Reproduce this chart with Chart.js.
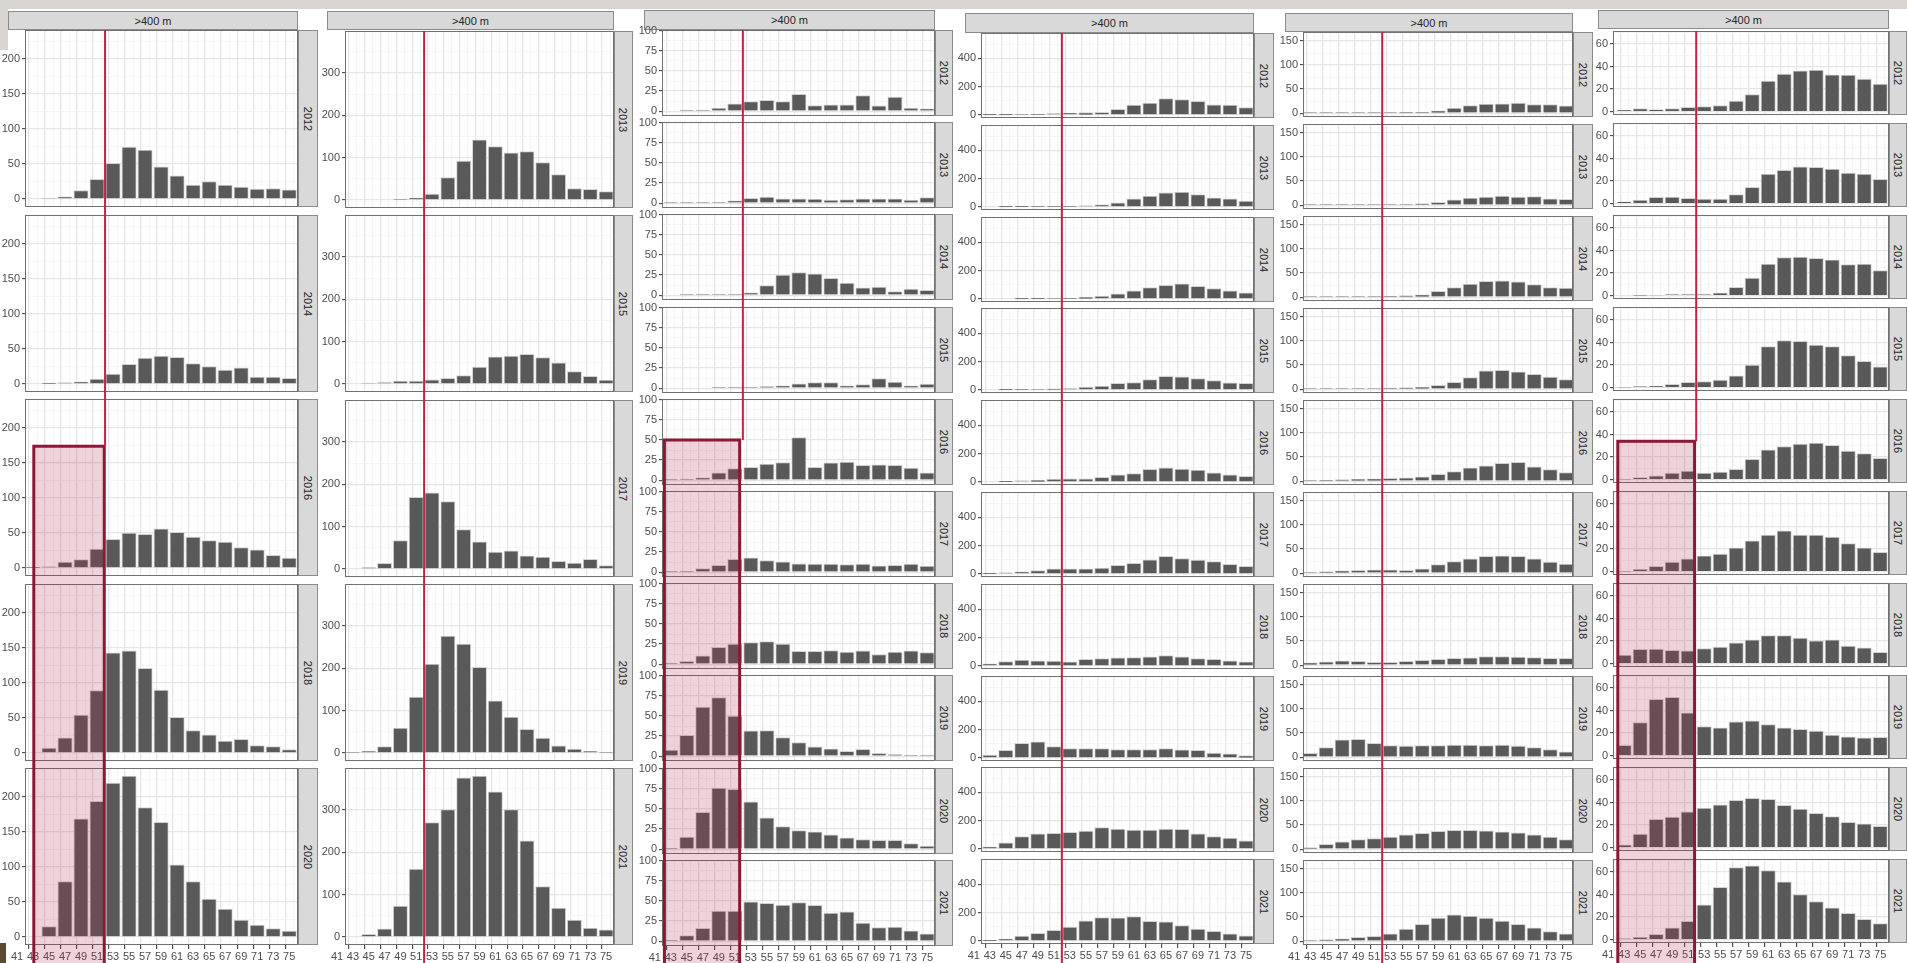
<!DOCTYPE html>
<html>
<head>
<meta charset="utf-8">
<script src="https://cdn.jsdelivr.net/npm/chart.js@4.4.1/dist/chart.umd.min.js"></script>
<style>
  html, body { margin: 0; padding: 0; background: #fff; }
  #stage { position: relative; width: 1907px; height: 963px; overflow: hidden; background: #fff;
           font-family: "Liberation Sans", Arial, sans-serif; }
  #stage canvas { position: absolute; }
  .strip { position: absolute; box-sizing: border-box; background: #d9d9d9; border: 1px solid #8a8a8a;
           color: #262626; font-size: 11px; display: flex; align-items: center; justify-content: center; }
  .strip span { display: block; white-space: nowrap; }
  .strip.v span { transform: rotate(90deg); }
  .band { position: absolute; background: #d8d5d0; }
</style>
</head>
<body>
<div id="stage"></div>
<script>
// Length classes (bin centres) and the labelled ticks of the shared x axis
const lengthBins  = [43, 45, 47, 49, 51, 53, 55, 57, 59, 61, 63, 65, 67, 69, 71, 73, 75];
const xTickLabels = [41, 43, 45, 47, 49, 51, 53, 55, 57, 59, 61, 63, 65, 67, 69, 71, 73, 75];
const depthLabel  = '>400 m';
const cutoffLength = 52;

// Panel set A (even years)
const yearsA = [2012, 2014, 2016, 2018, 2020];
const countsA = [
  [0, 1, 3, 12, 28, 51, 74, 70, 46, 33, 20, 25, 20, 17, 14, 15, 13],
  [0, 0.5, 1.5, 3, 7, 14, 28, 37, 40, 38, 29, 25, 20, 23, 10, 10, 8],
  [0.5, 1.5, 8.5, 12, 27, 41, 50, 48, 56, 51, 44, 39, 37, 29, 26, 18, 14],
  [0, 7, 21.5, 54, 89, 143, 146, 121, 90, 51, 32, 26, 17, 19.5, 10.5, 9, 5],
  [0, 15, 79, 169, 194, 220, 230, 185, 164, 103, 79, 54, 40, 24, 17, 12, 8.5]
];

// Panel set B (odd years)
const yearsB = [2013, 2015, 2017, 2019, 2021];
const countsB = [
  [0, 0, 0, 1, 4.5, 14, 53, 92, 142, 126, 111, 114, 88, 60, 27, 25, 20],
  [0, 2, 3, 6.5, 6.5, 10, 13, 20, 40, 64, 66, 70, 62, 50, 29, 18, 9],
  [0, 3, 13, 67, 169, 180, 159, 93, 64, 40, 43, 31, 28, 18, 14, 23, 8],
  [1, 4, 15, 59, 132, 210, 276, 257, 202, 123, 85, 56, 35, 17, 9, 4, 1],
  [0, 6, 19, 73, 160, 270, 301, 376, 380, 343, 301, 227, 119, 68, 40, 21, 17]
];

const yearsAll = [2012, 2013, 2014, 2015, 2016, 2017, 2018, 2019, 2020, 2021];

const countsC = [
  [0, 0.5, 1, 4, 9, 12, 13.5, 12, 21, 7, 8, 8, 19.5, 6.5, 17.5, 4, 3],
  [0.3, 0.3, 0.5, 1, 3, 6, 7.5, 5.5, 5.5, 5, 4, 4.5, 5.5, 5.5, 5.5, 4, 7],
  [0, 0.3, 1, 1.5, 1.5, 3, 12, 25, 28, 26.5, 21, 15, 9, 10, 4.5, 7.5, 6],
  [0, 0, 0, 0.5, 0.5, 0.5, 2, 3, 5.5, 7, 7, 3, 4.5, 12, 7.5, 3, 5],
  [0.3, 1.5, 3, 9, 14.5, 16, 20, 22, 53, 16, 21.5, 22.5, 18.5, 19, 18.5, 15, 9],
  [0.3, 1.2, 4.5, 8.5, 16, 18, 14.5, 13, 10.5, 10, 10, 9.5, 10, 8, 8.5, 10, 7.5],
  [0.5, 3.5, 10.5, 21, 25, 27, 28, 25, 16, 16, 17, 15, 16.5, 12, 15, 16.5, 14.5],
  [7.5, 26, 61, 73, 50, 31.5, 32, 23, 17, 11.5, 9, 6, 8.5, 3.5, 2, 1.5, 1.5],
  [1, 15, 46, 76, 74.5, 59, 39, 28, 23, 21.5, 18, 14, 12, 11, 11, 7, 4],
  [0.5, 7, 16, 37.5, 37.5, 49, 47, 45, 48, 44.5, 35, 36.5, 22.5, 17, 17.5, 13, 9]
];

const countsD = [
  [1, 1, 4, 6, 10, 14, 17, 19, 40, 70, 84, 115, 108, 96, 72, 70, 53],
  [0, 1, 2, 3, 6, 6, 9, 15, 30, 58, 77, 100, 105, 88, 65, 58, 41],
  [0, 0, 1, 2, 4, 6, 13, 20, 37, 57, 80, 97, 107, 90, 73, 57, 43],
  [0, 2, 3, 4, 7, 10, 20, 27, 47, 53, 73, 97, 93, 80, 67, 50, 47],
  [0, 2, 8, 13, 20, 23, 23, 33, 50, 60, 90, 100, 91, 84, 64, 50, 40],
  [2, 9, 16, 24, 36, 36, 36, 42, 61, 75, 100, 125, 108, 98, 88, 68, 54],
  [16, 32, 42, 37, 35, 30, 47, 53, 57, 60, 65, 73, 65, 53, 47, 37, 30],
  [20, 54, 104, 114, 80, 67, 67, 67, 60, 60, 60, 67, 57, 54, 34, 30, 17],
  [15, 44, 87, 107, 111, 117, 127, 151, 141, 134, 134, 141, 138, 107, 87, 77, 57],
  [2, 14, 34, 54, 75, 98, 142, 166, 163, 173, 139, 136, 108, 85, 68, 51, 37]
];

const countsE = [
  [1, 1, 1, 1, 1, 1, 2, 2, 5, 10.5, 16, 19, 19.5, 21, 18, 18, 15],
  [1, 1, 1, 1, 1.5, 1, 1, 3, 6, 11, 14.5, 17, 19, 17, 18, 13, 12],
  [0.5, 0.5, 1, 1, 1, 2, 3, 5, 12, 20, 27, 33, 34, 32, 26, 20, 19],
  [0.5, 1, 1, 1, 1.5, 2, 3, 4, 8, 14, 24, 38, 39, 36, 31, 25, 20],
  [1, 2, 3, 4, 5, 6, 7, 9, 14, 20, 28, 32, 37, 39, 30, 24, 18],
  [1, 3, 5, 6, 7, 7, 6, 9, 18, 24, 30, 35, 36, 35, 30, 23, 19],
  [5, 7, 9, 8, 6, 6, 8, 10, 12, 14, 15, 18, 18, 17, 16, 14, 14],
  [8, 20, 36, 37, 29, 24, 23, 24, 24, 25, 25, 24, 25, 23, 20, 16, 11],
  [3, 10, 15, 20, 22, 25, 30, 33, 37, 39, 39, 38, 36, 34, 30, 25, 20],
  [1, 3, 5, 8, 10, 15, 25, 35, 48, 55, 52, 48, 42, 35, 28, 20, 15]
];

const countsF = [
  [1.2, 2.6, 1.8, 2.6, 3.8, 4.4, 5.3, 9.4, 15, 27, 33.2, 36.2, 36.8, 32.6, 32.4, 28.8, 24.4],
  [1.5, 3.2, 5.6, 5.9, 4.7, 4.1, 4.1, 8, 14.5, 26.3, 29.5, 32.7, 32.2, 30.7, 27.1, 26.3, 21.5],
  [0, 0.2, 0.5, 1, 1, 1, 2.5, 7.4, 15.6, 28, 33.7, 34.2, 33, 31.7, 27.6, 28, 22.2],
  [0.3, 1, 1.3, 3, 4.6, 5.4, 6.7, 10.5, 20, 36.4, 41.8, 41, 37.7, 36.4, 28.5, 23.4, 18.4],
  [0.3, 1.7, 3.4, 5.9, 7.6, 5.9, 6.7, 9.2, 18, 26.5, 29.4, 31.5, 32.4, 30.3, 25.2, 23.1, 18.9],
  [0.3, 2.1, 4.6, 8.4, 11.3, 13.9, 15.5, 21, 27.3, 32.4, 36.1, 32.4, 32.4, 30.7, 24.8, 21, 17.2],
  [7.6, 12.6, 13, 11.8, 11.3, 13.4, 14.7, 18.5, 21, 24.8, 24.8, 22.7, 20.2, 21, 15.5, 13.9, 10.1],
  [9.2, 29.2, 50, 51.7, 37.9, 25.8, 24.6, 30, 30.8, 27.5, 24.6, 23.3, 21.7, 18.3, 16.7, 15.8, 16.3],
  [2.5, 12, 25, 27, 31.7, 35, 38, 42, 43.8, 42.9, 37.5, 34.2, 30.4, 27.5, 22.5, 21.2, 18.8],
  [0.8, 2, 4.6, 10.4, 16.3, 30.8, 46.3, 63.8, 65.4, 61.3, 51.3, 40, 33.8, 28.3, 23.3, 17.9, 14.2]
];

// Layout of the six facet columns (pixels) and their axis ranges
const columns = [
  { years: yearsA, counts: countsA, left: 25, width: 273, top: 30, pitch: 184.5, h: 177,
    x: [42, 76.1], y: [-11.5, 241.5], step: 50, head: [8, 11, 19], strip: 20,
    cut: { panel: 2, y: 174, x: [43.1, 51.9] } },
  { years: yearsB, counts: countsB, left: 345, width: 269, top: 31, pitch: 184.3, h: 177,
    x: [42, 76], y: [-19, 399], step: 100, head: [327, 11, 19], strip: 19, cut: null },
  { years: yearsAll, counts: countsC, left: 662, width: 273, top: 30, pitch: 92.2, h: 86,
    x: [41.9, 76], y: [-6, 101], step: 25, head: [644, 10, 20], strip: 18,
    cut: { panel: 4, y: 50, x: [42.2, 51.6] } },
  { years: yearsAll, counts: countsD, left: 981, width: 273, top: 33, pitch: 91.8, h: 85,
    x: [41.9, 76], y: [-21, 578], step: 200, head: [965, 13, 20], strip: 20, cut: null },
  { years: yearsAll, counts: countsE, left: 1303, width: 270, top: 32, pitch: 92, h: 85,
    x: [42.1, 75.85], y: [-8, 169], step: 50, head: [1285, 13, 19], strip: 20, cut: null },
  { years: yearsAll, counts: countsF, left: 1613, width: 276, top: 31, pitch: 92, h: 84,
    x: [41.6, 76.1], y: [-3, 71.5], step: 20, head: [1598, 10, 19], strip: 18,
    cut: { panel: 4, y: 34, x: [42.2, 51.8] } }
];

const STAGE_H = 963;
const Y_AXIS_W = 34;
const PAD = 8;
const CLEAR = 'rgba(0,0,0,0)';
const BIN_FILL = 0.9;   // bar width as a share of the 2-unit class width

Chart.defaults.font.family = '"Liberation Sans", Arial, sans-serif';
Chart.defaults.font.size = 11;

const stage = document.getElementById('stage');

function addDiv(cls, l, t, w, h, text) {
  const d = document.createElement('div');
  d.className = cls;
  Object.assign(d.style, { left: l + 'px', top: t + 'px', width: w + 'px', height: h + 'px' });
  if (text !== undefined) {
    const s = document.createElement('span');
    s.textContent = text;
    d.appendChild(s);
  }
  stage.appendChild(d);
  return d;
}

const tickVal = c => (c && c.tick) ? c.tick.value : NaN;

// panel frame drawn on top of the bars
const framePlugin = {
  id: 'frame',
  afterDraw(chart) {
    const { ctx, chartArea: a } = chart;
    ctx.save();
    ctx.strokeStyle = '#707070';
    ctx.lineWidth = 1;
    ctx.strokeRect(Math.round(a.left) + 0.5, Math.round(a.top) + 0.5,
                   Math.round(a.right - a.left) - 1, Math.round(a.bottom - a.top) - 1);
    ctx.restore();
  }
};

function makePanel(col, i, isLast) {
  const top = Math.round(col.top + i * col.pitch);
  const axisH = isLast ? STAGE_H - (top + col.h) : 0;
  const cw = Y_AXIS_W + col.width + 2;
  const ch = PAD + col.h + (isLast ? axisH : PAD);
  const cv = document.createElement('canvas');
  cv.width = cw; cv.height = ch;
  cv.style.left = (col.left - Y_AXIS_W) + 'px';
  cv.style.top = (top - PAD) + 'px';
  stage.appendChild(cv);

  const [xmin, xmax] = col.x;
  const [ymin, ymax] = col.y;
  const step = col.step;
  const isMajorX = v => Math.abs(v % 2) === 1;
  const isMajorY = v => Math.abs(v % step) < 1e-9;
  const pxPerUnit = col.width / (xmax - xmin);

  const chart = new Chart(cv, {
    type: 'bar',
    data: {
      datasets: [{
        data: lengthBins.map((b, k) => ({ x: b, y: col.counts[i][k] })),
        backgroundColor: '#595959',
        borderColor: '#d2d2d2',
        borderWidth: 1,
        barThickness: BIN_FILL * 2 * pxPerUnit
      }]
    },
    options: {
      responsive: false,
      animation: false,
      devicePixelRatio: 1,
      events: [],
      layout: { padding: { top: PAD, bottom: isLast ? 0 : PAD, left: 0, right: 2 } },
      plugins: { legend: { display: false }, tooltip: { enabled: false } },
      scales: {
        x: {
          type: 'linear', min: xmin, max: xmax, offset: false,
          afterBuildTicks: s => {
            const t = [];
            const lo = isLast ? xTickLabels[0] : Math.ceil(xmin);
            for (let v = lo; v <= Math.floor(xmax); v++) t.push({ value: v });
            s.ticks = t;
          },
          ticks: {
            display: isLast, autoSkip: false, maxRotation: 0, minRotation: 0, padding: 1,
            color: '#4d4d4d', font: { size: 11 },
            callback: v => xTickLabels.includes(v) ? String(v) : ''
          },
          grid: {
            color: c => {
              const v = tickVal(c);
              if (!(v >= xmin && v <= xmax)) return CLEAR;
              return isMajorX(v) ? '#e5e5e5' : '#f2f2f2';
            },
            lineWidth: c => isMajorX(tickVal(c)) ? 1.3 : 0.8,
            drawTicks: isLast, tickLength: 4, tickWidth: 1,
            tickColor: c => isMajorX(tickVal(c)) ? '#333333' : CLEAR
          },
          border: { display: false },
          afterFit: s => { s.height = axisH; s.paddingLeft = 0; s.paddingRight = 0; }
        },
        y: {
          min: ymin, max: ymax,
          afterBuildTicks: s => {
            const t = [];
            for (let v = 0; v <= ymax + 1e-9; v += step / 2) t.push({ value: v });
            s.ticks = t;
          },
          ticks: {
            autoSkip: false, padding: 2, color: '#4d4d4d', font: { size: 11 },
            callback: v => isMajorY(v) ? String(v) : ''
          },
          grid: {
            color: c => isMajorY(tickVal(c)) ? '#e5e5e5' : '#f2f2f2',
            lineWidth: c => isMajorY(tickVal(c)) ? 1.3 : 0.8,
            drawTicks: true, tickLength: 3, tickWidth: 1,
            tickColor: c => isMajorY(tickVal(c)) ? '#333333' : CLEAR
          },
          border: { display: false },
          afterFit: s => { s.width = Y_AXIS_W; s.paddingTop = 0; s.paddingBottom = 0; }
        }
      }
    },
    plugins: [framePlugin]
  });

  // facet strip with the year on the right-hand side
  addDiv('strip v', col.left + col.width, top, col.strip, col.h, String(col.years[i]));
  return { chart, left: col.left - Y_AXIS_W, top: top - PAD };
}

// screen-capture style band along the top edge
addDiv('band', 0, 0, 1907, 9);
addDiv('band', 0, 9, 8, 41);

const built = columns.map(col => {
  addDiv('strip', col.head[0], col.head[1], col.left + col.width - col.head[0], col.head[2], depthLabel);
  const panels = col.years.map((y, i) => makePanel(col, i, i === col.years.length - 1));
  return { col, panels };
});

const corner = addDiv('band', 0, 943, 6, 20);
corner.style.background = '#5b4a33';

// overlay: size cutoff line and the highlighted small-length window
const ov = document.createElement('canvas');
ov.width = 1907; ov.height = STAGE_H;
Object.assign(ov.style, { left: '0px', top: '0px', zIndex: 5, pointerEvents: 'none' });
stage.appendChild(ov);
const g = ov.getContext('2d');

built.forEach(({ col, panels }) => {
  const first = panels[0];
  const xs = first.chart.scales.x;
  const lineX = first.left + xs.getPixelForValue(cutoffLength);
  const y0 = first.top + first.chart.chartArea.top;
  let y1 = STAGE_H;
  if (col.cut) {
    const p = panels[col.cut.panel];
    const yTop = p.top + p.chart.scales.y.getPixelForValue(col.cut.y);
    const xa = p.left + p.chart.scales.x.getPixelForValue(col.cut.x[0]);
    const xb = p.left + p.chart.scales.x.getPixelForValue(col.cut.x[1]);
    y1 = yTop;
    g.fillStyle = 'rgba(178, 30, 75, 0.2)';
    g.fillRect(xa, yTop, xb - xa, STAGE_H + 10 - yTop);
    g.strokeStyle = '#8c1836';
    g.lineWidth = 3;
    g.strokeRect(xa, yTop, xb - xa, STAGE_H + 10 - yTop);
  }
  g.strokeStyle = '#c51f45';
  g.lineWidth = 2;
  g.beginPath();
  g.moveTo(lineX, y0);
  g.lineTo(lineX, y1);
  g.stroke();
});
</script>
</body>
</html>
